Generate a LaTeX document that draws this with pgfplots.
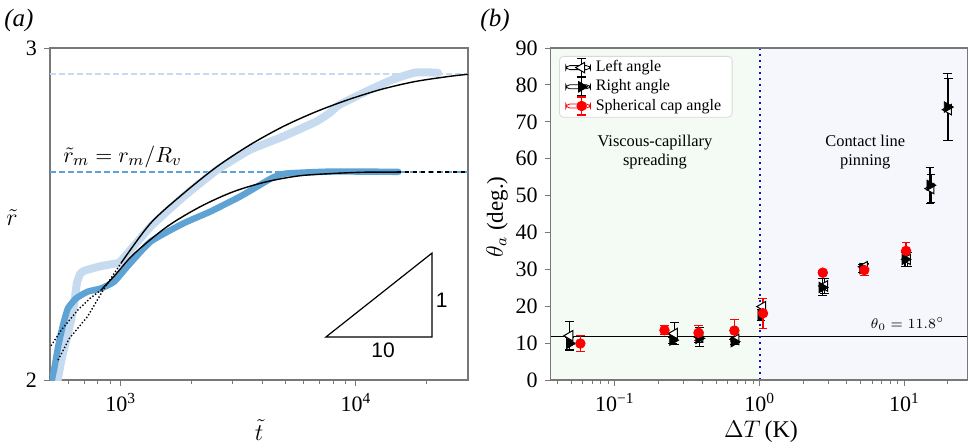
\documentclass[border=0pt]{standalone}
\usepackage{fontspec}
\setmainfont{Liberation Serif}
\newfontfamily\sansf{Liberation Sans}
\usepackage{pgfplots}
\pgfplotsset{compat=1.18}
\definecolor{lightb}{RGB}{198,219,239}
\definecolor{darkb}{RGB}{94,163,211}
\definecolor{bgl}{RGB}{244,250,244}
\definecolor{bgr}{RGB}{246,247,253}
\definecolor{spine}{RGB}{120,120,120}
\definecolor{vline}{RGB}{20,20,170}
\pgfdeclareplotmark{ltri}{%
  \pgfpathmoveto{\pgfqpoint{-\pgfplotmarksize}{0pt}}%
  \pgfpathlineto{\pgfqpoint{0.5\pgfplotmarksize}{0.866\pgfplotmarksize}}%
  \pgfpathlineto{\pgfqpoint{0.5\pgfplotmarksize}{-0.866\pgfplotmarksize}}%
  \pgfpathclose\pgfusepathqfillstroke}
\pgfdeclareplotmark{rtri}{%
  \pgfpathmoveto{\pgfqpoint{\pgfplotmarksize}{0pt}}%
  \pgfpathlineto{\pgfqpoint{-0.5\pgfplotmarksize}{0.866\pgfplotmarksize}}%
  \pgfpathlineto{\pgfqpoint{-0.5\pgfplotmarksize}{-0.866\pgfplotmarksize}}%
  \pgfpathclose\pgfusepathqfillstroke}
\pgfplotsset{
  myax/.style={scale only axis,
    axis line style={spine, line width=0.6pt},
    tick style={spine, line width=0.5pt},
    tick align=outside, xtick pos=bottom, ytick pos=left,
    major tick length=3pt, minor tick length=1.8pt,
    tick label style={font=\fontsize{11}{12}\selectfont},
    /pgf/number format/assume math mode=true},
  ebleg/.style={legend image code/.code={
    \path (-2.9pt,-1pt) rectangle (9.4pt,1pt);
    \draw[line width=0.6pt] (5pt,-4.5pt) -- (5pt,4.5pt) (2.8pt,-4.5pt) -- (7.2pt,-4.5pt) (2.8pt,4.5pt) -- (7.2pt,4.5pt);
    \draw[mark repeat=1] plot coordinates {(5pt,0pt)};}}
}
\begin{document}
\begin{tikzpicture}
\useasboundingbox (0pt,0pt) rectangle (484pt,-223.5pt);
% ---------------- panel (a)
\begin{axis}[myax, at={(25pt,-190pt)}, anchor=south west, width=209pt, height=166pt,
  xmode=log, xmin=500, xmax=30000, ymin=2, ymax=3,
  xtick={1000,10000}, xticklabels={10\textsuperscript{3},10\textsuperscript{4}},
  minor xtick={600,700,800,900,2000,3000,4000,5000,6000,7000,8000,9000,20000},
  ytick={2,3}, yticklabels={2,3}]
\addplot[lightb, line width=0.7pt, dash pattern=on 3pt off 1.5pt] coordinates {(500,2.922) (30000,2.922)};
\addplot[darkb, line width=0.7pt, dash pattern=on 3pt off 1.5pt] coordinates {(500,2.626) (30000,2.626)};
\addplot[lightb, line width=4pt, line join=round, line cap=round, smooth, tension=0.3] coordinates {
(535,1.988) (559,2.060) (586,2.120) (615,2.181) (635,2.235) (650,2.290) (670,2.318) (698,2.329)
(824,2.343) (950,2.351) (1000,2.358) (1340,2.462) (1849,2.552) (2559,2.632) (3540,2.693)
(4887,2.733) (6761,2.778) (7690,2.803) (8472,2.828) (10990,2.868) (14220,2.904) (17860,2.926)
(21680,2.926) (22400,2.925)};
\addplot[darkb, line width=3.2pt, line join=round, line cap=round, smooth, tension=0.3] coordinates {
(505,1.988) (523,2.040) (541,2.100) (568,2.166) (596,2.216) (646,2.246) (722,2.266) (824,2.276)
(937,2.296) (1067,2.342) (1340,2.417) (1849,2.472) (2399,2.507) (3206,2.552) (3899,2.587)
(4436,2.610) (5047,2.622) (7943,2.628) (15170,2.627)};
\addplot[black, line width=0.7pt, smooth] coordinates {
(1000,2.351) (1338,2.472) (1849,2.562) (2559,2.642) (3540,2.708) (4887,2.763) (6761,2.808)
(9333,2.845) (12910,2.876) (17860,2.899) (24660,2.914) (30000,2.921)};
\addplot[black, line width=0.7pt, densely dotted] coordinates {
(541,2.060) (605,2.126) (722,2.191) (850,2.276) (1000,2.351)};
\addplot[black, line width=0.7pt, smooth] coordinates {
(824,2.271) (938,2.313) (1138,2.380) (1574,2.462) (2178,2.522) (3006,2.567) (4159,2.597)
(5741,2.615) (7943,2.622) (10960,2.626) (15000,2.626)};
\addplot[black, line width=0.7pt, densely dotted] coordinates {
(505,2.103) (559,2.151) (657,2.211) (740,2.246) (824,2.271)};
\addplot[black, line width=0.7pt, dash pattern=on 2pt off 2pt] coordinates {(15000,2.626) (30000,2.626)};
\draw[black, line width=0.6pt] (rel axis cs:0.660,0.1295) -- (rel axis cs:0.914,0.1295) -- (rel axis cs:0.914,0.3825) -- cycle;
\node[font={\sansf\fontsize{10.5}{12}\selectfont}] at (rel axis cs:0.797,0.09) {10};
\node[font={\sansf\fontsize{10.5}{12}\selectfont}] at (rel axis cs:0.937,0.241) {1};
\node[anchor=base west, font=\fontsize{11}{13}\selectfont] at (rel axis cs:0.015,0.655) {$\tilde r_m = r_m/R_v$};
\end{axis}
% ---------------- panel (b)
\begin{axis}[myax, at={(275.35pt,-190pt)}, anchor=south west, width=208.3pt, height=166pt,
  xmode=log, xmin=0.036, xmax=27.2, ymin=0, ymax=90, axis on top,
  ytick={0,10,...,90},
  xtick={0.1,1,10}, xticklabels={10\textsuperscript{−1},10\textsuperscript{0},10\textsuperscript{1}},
  minor xtick={0.04,0.05,0.06,0.07,0.08,0.09,0.2,0.3,0.4,0.5,0.6,0.7,0.8,0.9,2,3,4,5,6,7,8,9,20},
  legend style={at={(0.02,0.976)}, anchor=north west, draw=gray!30, rounded corners=2pt,
    font=\fontsize{8}{9}\selectfont, fill=white, inner xsep=3pt, inner ysep=0.8pt,
    row sep=0pt, nodes={inner xsep=2.5pt, inner ysep=0.8pt}},
  legend cell align=left]
\fill[bgl] (axis cs:0.036,0) rectangle (axis cs:1,90);
\fill[bgr] (axis cs:1,0) rectangle (axis cs:27.2,90);
\addplot[black, line width=0.7pt, forget plot] coordinates {(0.036,11.8) (27.2,11.8)};
\addplot[vline, line width=1pt, dotted, forget plot] coordinates {(1,0) (1,90)};
\addplot[black, only marks, mark=ltri, mark size=3pt, ebleg,
  mark options={fill=white, draw=black, line width=0.5pt},
  error bars/.cd, y dir=both, y explicit,
  error mark options={rotate=90, mark size=2.2pt, black, line width=0.5pt},
  error bar style={black, line width=0.6pt}] coordinates {
(0.0488,12.0) +- (0,3.9)
(0.2575,12.6) +- (0,2.9)
(0.386,11.7) +- (0,2.6)
(0.684,11.0) +- (0,0.9)
(1.05,19.9) +- (0,2.2)
(2.81,25.5) +- (0,2.0)
(5.28,30.7) +- (0,1.0)
(10.5,32.7) +- (0,2.0)
(15.25,51.9) +- (0,3.8)
(20.1,73.3) +- (0,8.5)};
\addlegendentry{Left angle}
\addplot[black, only marks, mark=rtri, mark size=3pt, ebleg,
  mark options={fill=black, draw=black},
  error bars/.cd, y dir=both, y explicit,
  error mark options={rotate=90, mark size=2.2pt, black, line width=0.5pt},
  error bar style={black, line width=0.6pt}] coordinates {
(0.0485,9.9) +- (0,1.6)
(0.2506,10.8) +- (0,0.8)
(0.38,11.3) +- (0,1.0)
(0.666,10.4) +- (0,0.9)
(1.02,17.6) +- (0,1.5)
(2.70,25.1) +- (0,2.3)
(5.15,30.2) +- (0,1.0)
(10.1,32.7) +- (0,2.0)
(15.0,52.8) +- (0,4.9)
(19.8,74.0) +- (0,9.0)};
\addlegendentry{Right angle}
\addplot[red, only marks, mark=*, mark size=2.4pt, ebleg,
  mark options={fill=red, draw=red},
  error bars/.cd, y dir=both, y explicit,
  error mark options={rotate=90, mark size=2.2pt, red, line width=0.5pt},
  error bar style={red, line width=0.6pt}] coordinates {
(0.0577,9.9) +- (0,2.3)
(0.220,13.5) +- (0,1.2)
(0.378,12.8) +- (0,2.0)
(0.669,13.4) +- (0,2.9)
(1.054,18.1) +- (0,4.0)
(2.73,29.1) +- (0,0.5)
(5.28,29.8) +- (0,1.5)
(10.27,35.0) +- (0,2.4)};
\addlegendentry{Spherical cap angle}
\node[align=center, font=\fontsize{8.2}{9.2}\selectfont] at (axis cs:0.189,61.8) {Viscous-capillary\\spreading};
\node[align=center, font=\fontsize{8.2}{9.2}\selectfont] at (axis cs:5.36,61.8) {Contact line\\pinning};
\node[anchor=base east, font=\fontsize{7}{8}\selectfont] at (axis cs:21.2,13.9) {$\theta_0 = 11.8^{\circ}$};
\end{axis}
% ---------------- outer labels
\node[font=\fontsize{12.5}{14}\selectfont] at (9.5pt,-10pt) {\textit{(a)}};
\node[font=\fontsize{12.5}{14}\selectfont] at (247.5pt,-10pt) {\textit{(b)}};
\node[font=\fontsize{13}{15}\selectfont] at (6pt,-109pt) {$\tilde r$};
\node[font=\fontsize{13}{15}\selectfont] at (129.5pt,-215pt) {$\tilde t$};
\node[font=\fontsize{11.5}{14}\selectfont, rotate=90] at (248.5pt,-108.5pt) {$\theta_a$ (deg.)};
\node[font=\fontsize{12}{14}\selectfont] at (380.5pt,-216pt) {$\Delta T$\,(K)};
\end{tikzpicture}
\end{document}
